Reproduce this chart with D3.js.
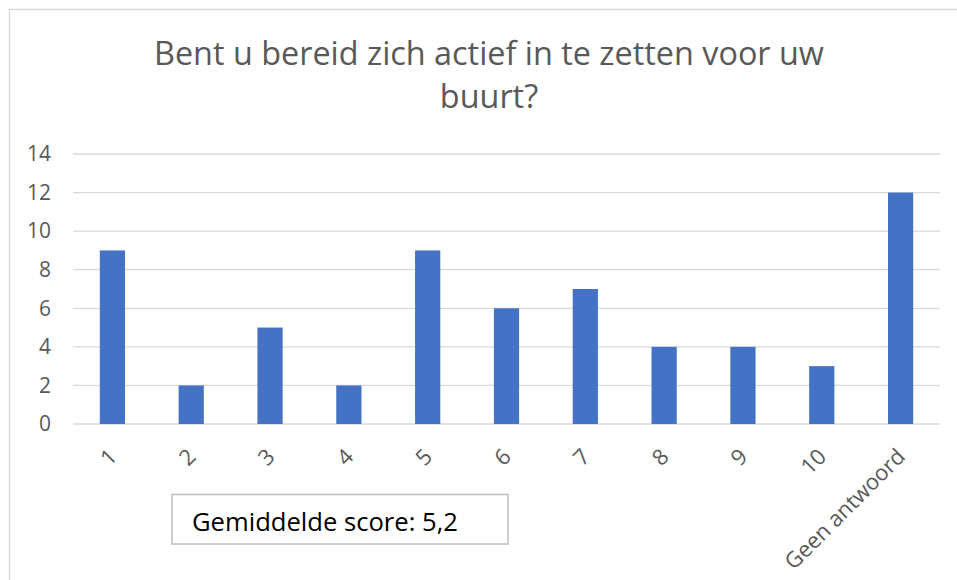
<!DOCTYPE html>
<html>
<head>
<meta charset="utf-8">
<script src="https://cdn.jsdelivr.net/npm/d3@7"></script>
<style>
  body { margin: 0; background: #fff; }
  svg { display: block; }
</style>
</head>
<body>
<div id="chart"></div>
<script>
// Data
const categories = ["1", "2", "3", "4", "5", "6", "7", "8", "9", "10", "Geen antwoord"];
const counts = [9, 2, 5, 2, 9, 6, 7, 4, 4, 3, 12];
const yTicks = [0, 2, 4, 6, 8, 10, 12, 14];
const titleLines = ["Bent u bereid zich actief in te zetten voor uw", "buurt?"];
const noteText = "Gemiddelde score: 5,2";

const W = 957, H = 580;
const margin = {top: 154, right: 17, bottom: 156, left: 73};
const width = W - margin.left - margin.right;
const height = H - margin.top - margin.bottom;
const font = "'Open Sans', 'Noto Sans', sans-serif";

const svg = d3.select("#chart").append("svg")
    .attr("width", W)
    .attr("height", H);

// chart frame (only top and left edge are visible)
svg.append("rect")
    .attr("x", 9.5).attr("y", 9.5)
    .attr("width", W).attr("height", H)
    .attr("fill", "#fff")
    .attr("stroke", "#d9d9d9")
    .attr("stroke-width", 1.5);

// title, fitted to the width of the original
const title = svg.append("text")
    .attr("text-anchor", "middle")
    .attr("fill", "#595959")
    .style("font-family", font)
    .style("font-size", "30px");
title.selectAll("tspan")
    .data(titleLines)
    .join("tspan")
    .attr("x", 489)
    .attr("y", (d, i) => 65 + i * 43)
    .text(d => d);
const w1 = title.select("tspan").node().getComputedTextLength();
title.style("font-size", (30 * 670 / w1).toFixed(2) + "px");

const g = svg.append("g")
    .attr("transform", "translate(" + margin.left + "," + margin.top + ")");

const x = d3.scaleBand()
    .domain(categories)
    .range([0, width])
    .paddingInner(0.68)
    .paddingOuter(0.34);

const y = d3.scaleLinear()
    .domain([0, 14])
    .range([height, 0]);

// gridlines
g.append("g")
    .selectAll("line")
    .data(yTicks)
    .join("line")
    .attr("x1", 0).attr("x2", width)
    .attr("y1", d => y(d)).attr("y2", d => y(d))
    .attr("stroke", "#d9d9d9")
    .attr("stroke-width", 1.3);

// y axis labels
const yAxis = g.append("g")
    .call(d3.axisLeft(y).tickValues(yTicks).tickSize(0).tickPadding(22));
yAxis.select(".domain").remove();
yAxis.selectAll("text")
    .attr("fill", "#595959")
    .style("font-family", font)
    .style("font-size", "21px");

// bars
g.selectAll(".bar")
    .data(counts)
    .join("rect")
    .attr("class", "bar")
    .attr("x", (d, i) => x(categories[i]))
    .attr("width", x.bandwidth())
    .attr("y", d => y(d))
    .attr("height", d => y(0) - y(d))
    .attr("fill", "#4472c4");

// x axis labels, rotated
const xAxis = g.append("g")
    .attr("transform", "translate(0," + height + ")")
    .call(d3.axisBottom(x).tickSize(0));
xAxis.select(".domain").remove();
xAxis.selectAll("text")
    .attr("fill", "#595959")
    .style("font-family", font)
    .style("font-size", "22px")
    .attr("text-anchor", "end")
    .attr("dy", null)
    .attr("y", null)
    .attr("transform", "translate(6,34) rotate(-45)");

// note box
svg.append("rect")
    .attr("x", 172).attr("y", 494.5)
    .attr("width", 336).attr("height", 49.5)
    .attr("fill", "#fff")
    .attr("stroke", "#bfbfbf")
    .attr("stroke-width", 1.5);

const note = svg.append("text")
    .attr("x", 192).attr("y", 531)
    .attr("fill", "#000")
    .style("font-family", font)
    .style("font-size", "22px")
    .text(noteText);
const wn = note.node().getComputedTextLength();
note.style("font-size", (22 * 266 / wn).toFixed(2) + "px");
</script>
</body>
</html>
